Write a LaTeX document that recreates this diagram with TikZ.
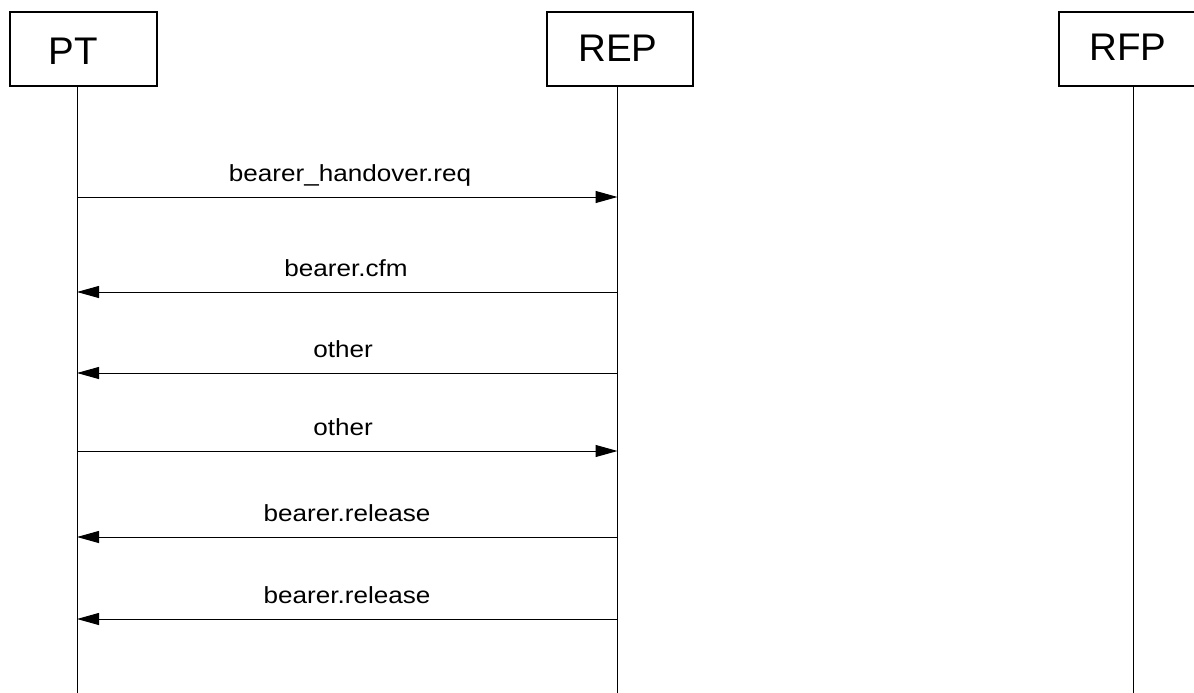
\documentclass[tikz,border=0pt]{standalone}
\usepackage{fontspec}
\setmainfont{Liberation Sans}
\newfontfamily\labfont[FakeStretch=1.12]{Liberation Sans}
\usetikzlibrary{arrows.meta}
\begin{document}
\begin{tikzpicture}[x=1pt,y=1pt,
  entity/.style={draw=black,line width=1.5pt,fill=white,inner sep=0pt},
  enttext/.style={font=\fontsize{38.5}{40}\selectfont,anchor=base,inner sep=0pt},
  lifeline/.style={draw=black,line width=1pt},
  msg/.style={draw=black,line width=1pt,-{Triangle[length=22pt,width=12pt]}},
  msgtext/.style={font=\labfont\fontsize{23.3}{26}\selectfont,anchor=base,inner sep=0pt}]
\useasboundingbox (0,0) rectangle (1194,-693);
\clip (0,0) rectangle (1194,-693);
\fill[white] (0,0) rectangle (1194,-693);
% boxes
\path[entity] (10,-12) rectangle (157,-86);
\path[entity] (547,-12) rectangle (693,-86);
\path[entity] (1059,-12) rectangle (1207,-86);
\node[enttext] (ptT) at (73,-64) {PT};
\node[enttext] (repT) at (618,-62) {REP};
\node[enttext] (rfpT) at (1128,-61) {RFP};
% lifelines
\coordinate (ptTop) at (77,-86);
\coordinate (ptBot) at (77,-693);
\coordinate (repTop) at (617.5,-86);
\coordinate (repBot) at (617.5,-693);
\coordinate (rfpTop) at (1133,-86);
\coordinate (rfpBot) at (1133,-693);
\draw[lifeline] (ptTop) -- (ptBot);
\draw[lifeline] (repTop) -- (repBot);
\draw[lifeline] (rfpTop) -- (rfpBot);
% message rows
\foreach \n/\y in {1/197,2/292,3/373,4/451,5/537,6/619}{
  \coordinate (pt\n) at (77,-\y);
  \coordinate (rep\n) at (617.5,-\y);
}
\draw[msg] (pt1) -- (rep1);
\draw[msg] (rep2) -- (pt2);
\draw[msg] (rep3) -- (pt3);
\draw[msg] (pt4) -- (rep4);
\draw[msg] (rep5) -- (pt5);
\draw[msg] (rep6) -- (pt6);
\node[msgtext] (l1) at (350,-181) {bearer\_handover.req};
\node[msgtext] (l2) at (346,-276) {bearer.cfm};
\node[msgtext] (l3) at (343,-357) {other};
\node[msgtext] (l4) at (343,-435) {other};
\node[msgtext] (l5) at (347,-521) {bearer.release};
\node[msgtext] (l6) at (347,-603) {bearer.release};
\end{tikzpicture}
\end{document}
